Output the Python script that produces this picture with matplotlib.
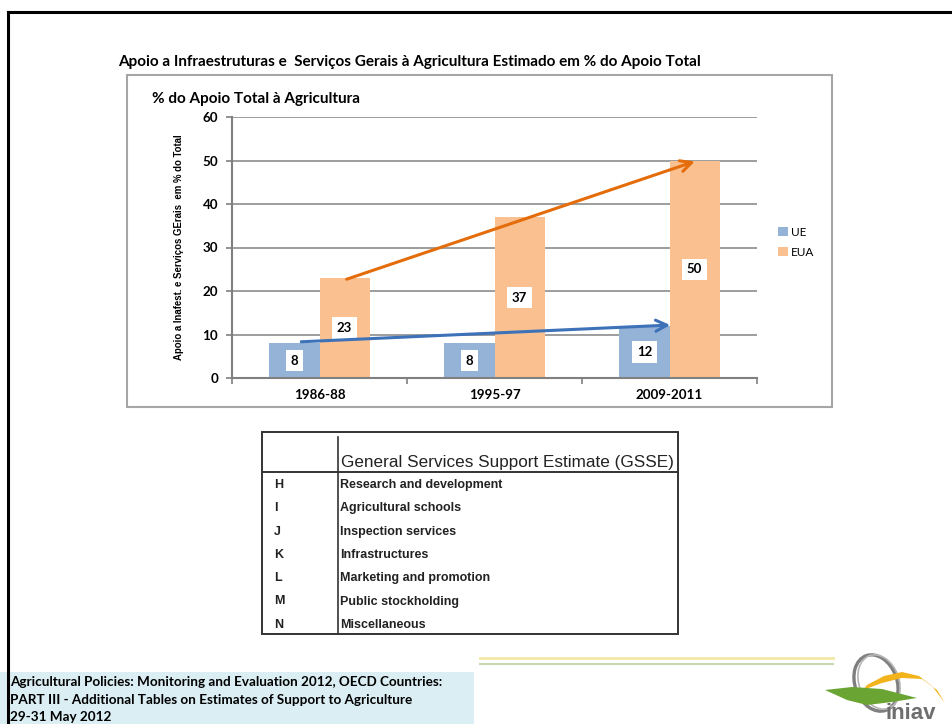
import numpy as np
import matplotlib.pyplot as plt
from matplotlib.patches import Rectangle, Ellipse, Polygon
from matplotlib.lines import Line2D

# Chart data
periods = ["1986-88", "1995-97", "2009-2011"]
ue = [8, 8, 12]
eua = [23, 37, 50]
series_names = ["UE", "EUA"]

# GSSE table
gsse_codes = ["H", "I", "J", "K", "L", "M", "N"]
gsse_items = ["Research and development", "Agricultural schools", "Inspection services",
              "Infrastructures", "Marketing and promotion", "Public stockholding",
              "Miscellaneous"]

footer_lines = ["Agricultural Policies: Monitoring and Evaluation 2012, OECD Countries:",
                "PART III - Additional Tables on Estimates of Support to Agriculture",
                "29-31 May 2012"]

W, H = 952, 724
BLUE = "#95b3d7"
ORANGE = "#fac090"
CAL = ["Lato", "DejaVu Sans"]
NARROW = ["Liberation Sans Narrow", "Liberation Sans", "DejaVu Sans"]


def fx(x):
    return x / W


def fy(y):
    return 1 - y / H


fig = plt.figure(figsize=(W / 100, H / 100), dpi=100)

# slide border (top and left)
fig.add_artist(Line2D([fx(8), 1], [fy(12), fy(12)], color="black", lw=2.2))

# chart title and frame
fig.text(fx(118), fy(62), "Apoio a Infraestruturas e  Serviços Gerais à Agricultura Estimado em % do Apoio Total",
         family=CAL, weight="bold", fontsize=11, va="center", ha="left")
fig.add_artist(Rectangle((fx(127), fy(407)), fx(832) - fx(127), fy(75) - fy(407),
                         transform=fig.transFigure, fill=False, ec="#a6a6a6", lw=1.5))
fig.text(fx(152), fy(99), "% do Apoio Total à Agricultura", family=CAL, weight="bold",
         fontsize=11, va="center", ha="left")

ax = fig.add_axes([fx(232), fy(378), fx(757) - fx(232), fy(117) - fy(378)])
x = np.arange(len(periods))
bw = 0.286
b1 = ax.bar(x - bw / 2, ue, bw, color=BLUE, label=series_names[0], zorder=2)
b2 = ax.bar(x + bw / 2, eua, bw, color=ORANGE, label=series_names[1], zorder=2)

for bars, vals in [(b1, ue), (b2, eua)]:
    for b, v in zip(bars, vals):
        ax.text(b.get_x() + b.get_width() / 2, v / 2, str(v), ha="center", va="center",
                family=CAL, weight="bold", fontsize=9.5, zorder=4,
                bbox=dict(boxstyle="square,pad=0.35", fc="white", ec="none"))

ax.set_xlim(-0.5, len(periods) - 0.5)
ax.set_ylim(0, 60)
ax.set_yticks(range(0, 61, 10))
ax.set_xticks(x)
ax.set_xticklabels(periods)
ax.set_xticks(np.arange(-0.5, len(periods)), minor=True)
ax.tick_params(axis="x", which="major", length=0, pad=8)
ax.tick_params(axis="x", which="minor", length=4, color="#808080", width=1.2)
ax.tick_params(axis="y", length=4, color="#808080", width=1.2, pad=6)
for lab in ax.get_xticklabels() + ax.get_yticklabels():
    lab.set_family(CAL)
    lab.set_weight("bold")
    lab.set_fontsize(9.6)
ax.grid(axis="y", color="#8c8c8c", lw=1.2, zorder=0)
ax.set_axisbelow(True)
for s in ["top", "right"]:
    ax.spines[s].set_visible(False)
for s in ["left", "bottom"]:
    ax.spines[s].set_color("#808080")
    ax.spines[s].set_linewidth(1.5)
ax.set_ylabel("Apoio a Inafest. e Serviços GErais  em % do Total", family=NARROW,
              weight="bold", fontsize=6.9, labelpad=13)

# trend arrows
ax.annotate("", xy=(x[-1] + 0.16, eua[-1]), xytext=(x[0] + 0.14, eua[0] - 0.5),
            arrowprops=dict(arrowstyle="->", color="#e46c0a", lw=2.2, mutation_scale=20),
            zorder=5)
ax.annotate("", xy=(x[-1] + 0.02, ue[-1] + 0.2), xytext=(x[0] - 0.12, ue[0] + 0.3),
            arrowprops=dict(arrowstyle="->", color="#3d72b8", lw=2.2, mutation_scale=20),
            zorder=5)

leg = ax.legend(loc="center left", bbox_to_anchor=(1.02, 0.52), frameon=False,
                handlelength=0.8, handleheight=0.8, handletextpad=0.3, labelspacing=0.8,
                prop={"family": CAL, "size": 8.5})

# GSSE table
fig.add_artist(Rectangle((fx(262), fy(634)), fx(678) - fx(262), fy(432) - fy(634),
                         transform=fig.transFigure, fill=False, ec="#333333", lw=1.4))
fig.add_artist(Line2D([fx(338), fx(338)], [fy(437), fy(634)], color="#333333", lw=1.2))
fig.add_artist(Line2D([fx(262), fx(678)], [fy(472), fy(472)], color="#333333", lw=1.4))
fig.text(fx(341), fy(462), "General Services Support Estimate (GSSE)", family="Liberation Sans",
         fontsize=12.3, va="center", ha="left", color="#222222")
for i, (c, t) in enumerate(zip(gsse_codes, gsse_items)):
    yy = 485 + i * 23.3
    fig.text(fx(274), fy(yy), c, family="Liberation Sans", weight="bold", fontsize=9,
             va="center", ha="left", color="#222222")
    fig.text(fx(340), fy(yy), t, family="Liberation Sans", weight="bold", fontsize=9,
             va="center", ha="left", color="#222222")

# footer
fig.add_artist(Rectangle((fx(0), 0), fx(474), fy(672), transform=fig.transFigure,
                         fc="#daeef3", ec="none"))
fig.add_artist(Line2D([fx(8), fx(8)], [fy(12), 0], color="black", lw=2.2))
for i, t in enumerate(footer_lines):
    fig.text(fx(10), fy(682 + i * 17.5), t, family=CAL, weight="bold", fontsize=9.7,
             va="center", ha="left")
fig.add_artist(Line2D([fx(480), fx(833)], [fy(658), fy(658)], color="#f3e7a6", lw=2))
fig.add_artist(Line2D([fx(480), fx(833)], [fy(664), fy(664)], color="#c9d6b4", lw=1.5))

# logo
lg = fig.add_axes([fx(822), 0, fx(952) - fx(822), fy(650)])
lg.set_xlim(0, 130)
lg.set_ylim(74, 0)
lg.axis("off")
lg.add_patch(Ellipse((54, 33), 42, 58, angle=-20, fill=False, ec="#7f7f7f", lw=2.4))
lg.add_patch(Ellipse((57, 32), 40, 56, angle=-20, fill=False, ec="#b5b5b5", lw=1.2))
lg.add_patch(Polygon([(41, 40), (60, 33), (80, 28), (100, 29), (115, 40), (123, 53),
                      (110, 36), (97, 26), (80, 22), (62, 26), (45, 35)],
                     fc="#f2b31b", ec="none"))
lg.add_patch(Polygon([(3, 40), (30, 37), (60, 39), (95, 48), (70, 52), (45, 55), (25, 50)],
                     fc="#6aa533", ec="none"))
lg.text(89, 69, "iniav", family="Liberation Sans", weight="bold", fontsize=16,
        color="#6e6e6e", ha="center", va="baseline")

fig.savefig("out.png", dpi=100)
